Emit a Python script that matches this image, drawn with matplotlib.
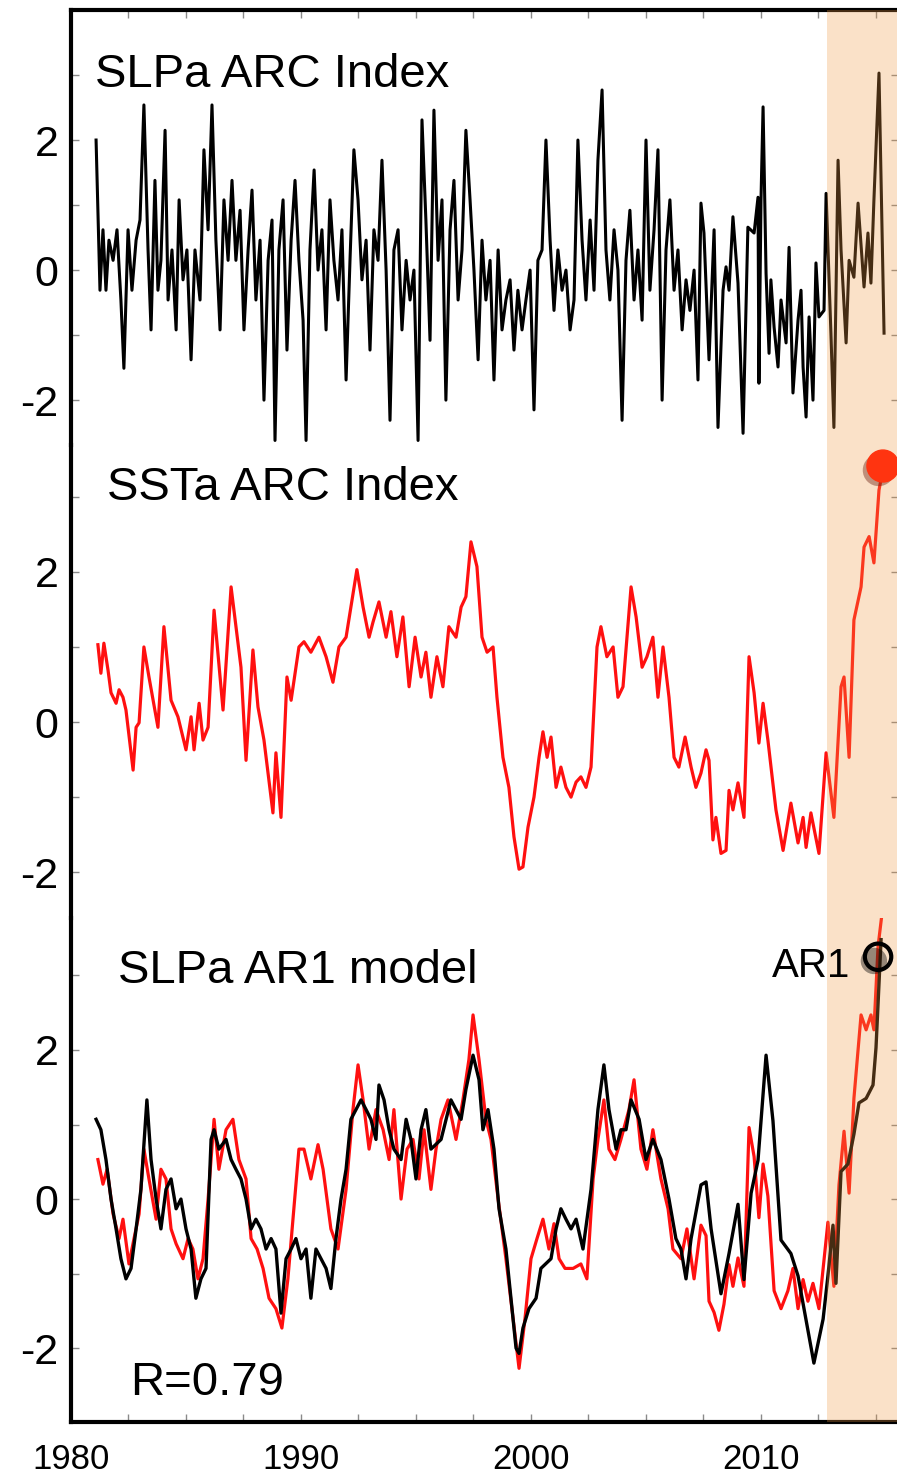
import matplotlib
matplotlib.use("Agg")
import matplotlib.pyplot as plt
import matplotlib.patheffects as pe

plt.rcParams['font.family'] = ['Liberation Sans', 'DejaVu Sans']

# --- data (year, standardized index) ---
slp_year = [1981.09, 1981.26, 1981.39, 1981.52, 1981.65, 1981.83, 1982.00, 1982.17, 1982.30, 1982.48,
            1982.65, 1982.83, 1983.00, 1983.17, 1983.35, 1983.48, 1983.65, 1983.78, 1983.91, 1984.09,
            1984.22, 1984.39, 1984.57, 1984.70, 1984.87, 1985.04, 1985.22, 1985.39, 1985.61, 1985.78,
            1985.96, 1986.13, 1986.30, 1986.48, 1986.65, 1986.83, 1987.00, 1987.17, 1987.35, 1987.52,
            1987.70, 1987.87, 1988.04, 1988.22, 1988.39, 1988.57, 1988.74, 1988.87, 1989.04, 1989.22,
            1989.39, 1989.57, 1989.74, 1989.91, 1990.09, 1990.22, 1990.39, 1990.57, 1990.74, 1990.91,
            1991.09, 1991.26, 1991.43, 1991.61, 1991.78, 1991.96, 1992.13, 1992.30, 1992.48, 1992.65,
            1992.83, 1993.00, 1993.17, 1993.35, 1993.52, 1993.70, 1993.87, 1994.04, 1994.22, 1994.39,
            1994.57, 1994.74, 1994.91, 1995.09, 1995.26, 1995.43, 1995.61, 1995.78, 1995.96, 1996.13,
            1996.30, 1996.48, 1996.65, 1996.83, 1997.00, 1997.17, 1997.35, 1997.52, 1997.70, 1997.87,
            1998.04, 1998.22, 1998.39, 1998.57, 1998.74, 1998.91, 1999.09, 1999.26, 1999.43, 1999.61,
            1999.78, 1999.96, 2000.13, 2000.30, 2000.48, 2000.65, 2000.83, 2001.00, 2001.17, 2001.35,
            2001.52, 2001.70, 2001.87, 2002.04, 2002.22, 2002.39, 2002.57, 2002.74, 2002.91, 2003.09,
            2003.26, 2003.43, 2003.61, 2003.78, 2003.96, 2004.13, 2004.30, 2004.48, 2004.65, 2004.83,
            2005.00, 2005.17, 2005.35, 2005.52, 2005.70, 2005.87, 2006.04, 2006.22, 2006.39, 2006.57,
            2006.74, 2006.91, 2007.09, 2007.26, 2007.39, 2007.52, 2007.74, 2007.96, 2008.13, 2008.35,
            2008.48, 2008.61, 2008.78, 2009.00, 2009.22, 2009.43, 2009.70, 2009.87, 2009.91, 2010.00,
            2010.09, 2010.22, 2010.35, 2010.43, 2010.57, 2010.74, 2010.87, 2011.09, 2011.22, 2011.39,
            2011.61, 2011.74, 2011.83, 2011.96, 2012.09, 2012.26, 2012.39, 2012.52, 2012.74, 2012.83,
            2013.04, 2013.17, 2013.35, 2013.48, 2013.70, 2013.83, 2014.04, 2014.22, 2014.48, 2014.65,
            2014.78, 2014.91, 2015.13, 2015.35]
slp_index = [2.00, -0.31, 0.62, -0.31, 0.46, 0.15, 0.62, -0.46, -1.51, 0.62,
             -0.31, 0.46, 0.77, 2.54, 0.31, -0.92, 1.38, -0.31, 0.15, 2.15,
             -0.46, 0.31, -0.92, 1.08, -0.15, 0.31, -1.38, 0.31, -0.46, 1.85,
             0.62, 2.54, 0.46, -0.92, 1.08, 0.15, 1.38, 0.15, 0.92, -0.92,
             0.31, 1.23, -0.46, 0.46, -2.00, 0.15, 0.77, -2.62, 0.31, 1.08,
             -1.23, 0.46, 1.38, 0.15, -0.77, -2.62, 0.31, 1.54, 0.00, 0.62,
             -0.92, 1.08, 0.15, -0.46, 0.62, -1.69, 0.15, 1.85, 1.08, -0.15,
             0.46, -1.23, 0.62, 0.15, 1.69, 0.00, -2.31, 0.31, 0.62, -0.92,
             0.15, -0.46, 0.00, -2.62, 2.31, 0.77, -1.08, 2.46, 0.15, 1.08,
             -2.00, 0.62, 1.38, -0.46, 0.31, 2.15, 1.08, 0.00, -1.38, 0.46,
             -0.46, 0.15, -1.69, 0.31, -0.92, -0.46, -0.15, -1.23, -0.31, -0.92,
             -0.46, 0.00, -2.15, 0.15, 0.31, 2.00, 0.46, -0.62, 0.31, -0.31,
             0.00, -0.92, -0.46, 2.00, 0.46, -0.46, 0.77, -0.31, 1.69, 2.77,
             0.31, -0.46, 0.62, 0.00, -2.31, 0.15, 0.92, -0.46, 0.31, -0.77,
             2.00, -0.31, 0.62, 1.85, -2.00, 0.31, 1.08, -0.31, 0.31, -0.92,
             -0.15, -0.62, 0.00, -1.69, 1.03, 0.57, -1.38, 0.62, -2.42, -0.31,
             0.05, -0.31, 0.82, -0.20, -2.51, 0.66, 0.57, 1.12, -1.74, 1.08,
             2.51, -0.05, -1.28, -0.15, -0.88, -1.49, -0.46, -1.12, 0.35, -1.89,
             -0.77, -0.31, -1.49, -2.26, -0.72, -2.00, 0.11, -0.72, -0.62, 1.18,
             -0.97, -2.42, 1.69, 0.31, -1.12, 0.15, -0.11, 1.03, -0.26, 0.57,
             -0.20, 1.08, 3.03, -0.97]

sst_year = [1981.17, 1981.30, 1981.43, 1981.61, 1981.74, 1981.96, 1982.09, 1982.26, 1982.39, 1982.70,
            1982.83, 1982.96, 1983.17, 1983.39, 1983.78, 1984.04, 1984.35, 1984.65, 1985.00, 1985.22,
            1985.35, 1985.57, 1985.74, 1985.96, 1986.22, 1986.61, 1986.96, 1987.39, 1987.61, 1987.91,
            1988.13, 1988.39, 1988.78, 1988.91, 1989.13, 1989.39, 1989.57, 1989.91, 1990.13, 1990.43,
            1990.78, 1991.09, 1991.39, 1991.65, 1991.96, 1992.17, 1992.43, 1992.70, 1992.96, 1993.13,
            1993.39, 1993.70, 1993.91, 1994.17, 1994.43, 1994.70, 1994.96, 1995.22, 1995.43, 1995.65,
            1995.91, 1996.17, 1996.43, 1996.74, 1996.96, 1997.17, 1997.39, 1997.65, 1997.87, 1998.09,
            1998.35, 1998.52, 1998.78, 1999.04, 1999.26, 1999.48, 1999.65, 1999.87, 2000.13, 2000.35,
            2000.52, 2000.70, 2000.87, 2001.09, 2001.30, 2001.52, 2001.74, 2001.96, 2002.17, 2002.39,
            2002.61, 2002.87, 2003.04, 2003.30, 2003.57, 2003.78, 2004.00, 2004.35, 2004.57, 2004.83,
            2005.04, 2005.30, 2005.52, 2005.74, 2006.00, 2006.22, 2006.43, 2006.70, 2006.96, 2007.17,
            2007.39, 2007.61, 2007.74, 2007.91, 2008.04, 2008.26, 2008.48, 2008.61, 2008.78, 2009.00,
            2009.26, 2009.48, 2009.70, 2009.91, 2010.09, 2010.30, 2010.65, 2010.96, 2011.30, 2011.61,
            2011.83, 2011.96, 2012.17, 2012.52, 2012.83, 2013.17, 2013.48, 2013.61, 2013.83, 2014.04,
            2014.35, 2014.48, 2014.70, 2014.91, 2015.13, 2015.30]
sst_index = [1.03, 0.65, 1.05, 0.69, 0.39, 0.25, 0.43, 0.33, 0.16, -0.64,
             -0.07, -0.01, 1.00, 0.60, -0.07, 1.27, 0.29, 0.07, -0.37, 0.07,
             -0.37, 0.25, -0.24, -0.07, 1.49, 0.16, 1.80, 0.73, -0.51, 0.96,
             0.20, -0.24, -1.21, -0.41, -1.27, 0.60, 0.29, 1.00, 1.07, 0.93,
             1.13, 0.87, 0.53, 1.00, 1.13, 1.53, 2.03, 1.53, 1.13, 1.33,
             1.60, 1.13, 1.47, 0.87, 1.40, 0.47, 1.13, 0.60, 0.93, 0.33,
             0.87, 0.47, 1.27, 1.13, 1.53, 1.67, 2.40, 2.07, 1.13, 0.93,
             1.00, 0.33, -0.47, -0.87, -1.53, -1.96, -1.93, -1.40, -1.00, -0.47,
             -0.13, -0.47, -0.20, -0.87, -0.60, -0.87, -1.00, -0.80, -0.73, -0.87,
             -0.60, 1.00, 1.27, 0.87, 1.00, 0.33, 0.47, 1.80, 1.40, 0.73,
             0.87, 1.13, 0.33, 1.00, 0.33, -0.47, -0.60, -0.20, -0.60, -0.87,
             -0.68, -0.37, -0.51, -1.57, -1.27, -1.75, -1.71, -0.91, -1.17, -0.81,
             -1.27, 0.87, 0.39, -0.28, 0.25, -0.24, -1.17, -1.71, -1.08, -1.61,
             -1.27, -1.67, -1.21, -1.75, -0.41, -1.27, 0.47, 0.60, -0.47, 1.36,
             1.80, 2.33, 2.47, 2.12, 3.09, 3.36]

ar1_year = [1981.09, 1981.30, 1981.52, 1981.74, 1981.96, 1982.17, 1982.39, 1982.61, 1982.83, 1983.04,
            1983.30, 1983.48, 1983.70, 1983.91, 1984.13, 1984.35, 1984.57, 1984.78, 1985.00, 1985.22,
            1985.43, 1985.65, 1985.87, 1986.09, 1986.22, 1986.43, 1986.74, 1986.96, 1987.17, 1987.39,
            1987.61, 1987.83, 1988.04, 1988.26, 1988.48, 1988.70, 1988.91, 1989.13, 1989.35, 1989.57,
            1989.78, 1990.00, 1990.22, 1990.43, 1990.65, 1990.87, 1991.09, 1991.30, 1991.52, 1991.74,
            1991.96, 1992.17, 1992.39, 1992.61, 1992.83, 1993.04, 1993.26, 1993.39, 1993.61, 1993.83,
            1994.04, 1994.35, 1994.57, 1994.78, 1995.00, 1995.22, 1995.43, 1995.65, 1996.09, 1996.52,
            1996.96, 1997.17, 1997.48, 1997.74, 1997.91, 1998.13, 1998.39, 1998.61, 1998.91, 1999.13,
            1999.35, 1999.48, 1999.65, 1999.91, 2000.22, 2000.43, 2000.87, 2001.09, 2001.30, 2001.52,
            2001.74, 2001.96, 2002.26, 2002.61, 2002.91, 2003.17, 2003.39, 2003.70, 2003.91, 2004.13,
            2004.35, 2004.70, 2005.00, 2005.30, 2005.65, 2006.00, 2006.30, 2006.52, 2006.74, 2006.96,
            2007.39, 2007.61, 2007.83, 2008.26, 2008.61, 2009.00, 2009.26, 2009.57, 2009.87, 2010.22,
            2010.52, 2010.87, 2011.30, 2011.61, 2011.87, 2012.30, 2012.70, 2012.91, 2013.13, 2013.26,
            2013.48, 2013.78, 2014.04, 2014.26, 2014.57, 2014.87, 2015.00, 2015.22]
ar1_model = [1.07, 0.93, 0.53, 0.00, -0.40, -0.80, -1.07, -0.93, -0.40, 0.13,
             1.33, 0.53, 0.00, -0.40, 0.13, 0.27, -0.13, 0.00, -0.40, -0.67,
             -1.33, -1.07, -0.93, 0.80, 0.93, 0.67, 0.80, 0.53, 0.40, 0.27,
             0.00, -0.40, -0.27, -0.40, -0.67, -0.53, -0.67, -1.53, -0.80, -0.67,
             -0.53, -0.80, -0.67, -1.33, -0.67, -0.80, -0.93, -1.20, -0.53, 0.00,
             0.40, 1.07, 1.20, 1.33, 1.20, 1.07, 0.80, 1.53, 1.33, 0.93,
             0.67, 0.53, 1.07, 0.80, 0.27, 0.93, 1.20, 0.67, 0.80, 1.33,
             1.07, 1.47, 1.93, 1.60, 0.93, 1.20, 0.67, -0.13, -0.67, -1.33,
             -2.00, -2.07, -1.73, -1.47, -1.33, -0.93, -0.80, -0.40, -0.13, -0.27,
             -0.40, -0.27, -0.67, 0.13, 1.20, 1.80, 1.20, 0.67, 0.93, 0.93,
             1.33, 1.07, 0.53, 0.80, 0.53, 0.00, -0.53, -0.67, -1.07, -0.53,
             0.19, 0.23, -0.40, -1.27, -0.73, -0.07, -1.08, 0.08, 0.52, 1.93,
             1.05, -0.55, -0.73, -1.03, -1.47, -2.20, -1.61, -1.03, -0.35, -1.13,
             0.37, 0.47, 0.87, 1.29, 1.35, 1.53, 2.03, 3.48]

sst3_year = [1981.17, 1981.39, 1981.57, 1981.83, 1982.09, 1982.26, 1982.52, 1982.74, 1982.96, 1983.17,
             1983.39, 1983.70, 1983.91, 1984.13, 1984.35, 1984.57, 1984.87, 1985.09, 1985.30, 1985.52,
             1985.74, 1985.96, 1986.22, 1986.43, 1986.74, 1987.04, 1987.30, 1987.61, 1987.83, 1988.09,
             1988.35, 1988.61, 1988.91, 1989.17, 1989.43, 1989.65, 1989.91, 1990.13, 1990.43, 1990.74,
             1990.96, 1991.30, 1991.61, 1991.96, 1992.26, 1992.48, 1992.70, 1992.96, 1993.26, 1993.57,
             1993.83, 1994.04, 1994.35, 1994.61, 1994.87, 1995.13, 1995.35, 1995.65, 1995.87, 1996.09,
             1996.39, 1996.74, 1997.04, 1997.30, 1997.48, 1997.74, 1998.04, 1998.26, 1998.57, 1998.91,
             1999.22, 1999.48, 1999.74, 2000.00, 2000.26, 2000.52, 2000.78, 2001.00, 2001.22, 2001.48,
             2001.83, 2002.17, 2002.43, 2002.70, 2002.91, 2003.17, 2003.39, 2003.65, 2003.91, 2004.26,
             2004.48, 2004.78, 2005.04, 2005.30, 2005.65, 2005.96, 2006.17, 2006.52, 2006.78, 2007.09,
             2007.39, 2007.61, 2007.74, 2007.96, 2008.17, 2008.39, 2008.61, 2008.78, 2009.00, 2009.26,
             2009.48, 2009.70, 2009.91, 2010.09, 2010.30, 2010.57, 2010.87, 2011.17, 2011.39, 2011.61,
             2011.83, 2012.04, 2012.26, 2012.52, 2012.91, 2013.17, 2013.39, 2013.61, 2013.83, 2014.04,
             2014.35, 2014.57, 2014.78, 2014.91, 2015.09, 2015.30]
sst3_index = [0.53, 0.20, 0.40, -0.20, -0.53, -0.27, -0.87, -0.53, -0.20, 0.67,
              0.27, -0.27, 0.40, 0.27, -0.40, -0.60, -0.80, -0.53, -0.67, -1.07,
              -0.80, 0.00, 1.07, 0.40, 0.93, 1.07, 0.53, 0.27, -0.53, -0.67,
              -0.93, -1.33, -1.47, -1.73, -1.07, -0.27, 0.67, 0.67, 0.27, 0.73,
              0.40, -0.40, -0.67, 0.13, 1.20, 1.80, 1.33, 0.67, 1.20, 0.93,
              0.53, 1.20, 0.00, 0.67, 0.80, 0.27, 0.93, 0.13, 0.67, 1.07,
              1.33, 0.80, 1.33, 1.87, 2.47, 1.87, 1.07, 0.80, 0.00, -0.80,
              -1.60, -2.27, -1.60, -0.80, -0.53, -0.27, -0.67, -0.33, -0.80, -0.93,
              -0.93, -0.87, -1.07, 0.27, 0.80, 1.33, 0.67, 0.53, 0.80, 1.20,
              1.60, 0.67, 0.40, 0.93, 0.27, -0.13, -0.67, -0.80, -0.40, -1.07,
              -0.35, -0.49, -1.37, -1.52, -1.76, -1.41, -0.88, -1.17, -0.79, -1.17,
              0.96, 0.57, -0.25, 0.47, 0.04, -1.23, -1.47, -1.23, -0.93, -1.47,
              -1.08, -1.37, -1.13, -1.47, -0.31, -1.17, 0.19, 0.91, 0.08, 1.35,
              2.47, 2.27, 2.47, 2.27, 3.39, 3.93]

sst_last = (2015.30, 3.41)   # big red dot, latest SSTa
ar1_last = (2015.09, 3.25)   # open circle, latest AR1 value
shade_start = 2012.85
year_ticks = [1980, 1982.5, 1985, 1987.5, 1990, 1992.5, 1995, 1997.5, 2000, 2002.5,
              2005, 2007.5, 2010, 2012.5, 2015]
year_labels = ['1980', '', '', '', '1990', '', '', '', '2000', '', '', '', '2010', '', '']

# --- layout (fractions of the 897 x 1481 canvas) ---
fig = plt.figure(figsize=(8.97, 14.81), dpi=100)
left, width = 71 / 897, 828 / 897
ax1 = fig.add_axes([left, 1 - 445 / 1481, width, 435 / 1481])
ax2 = fig.add_axes([left, 1 - 918 / 1481, width, 473 / 1481])
ax3 = fig.add_axes([left, 1 - 1422 / 1481, width, 504 / 1481])

ylims = [(-2.69, 4.0), (-2.61, 3.69), (-2.99, 3.77)]
for ax, yl in zip((ax1, ax2, ax3), ylims):
    ax.set_xlim(1980, 2016)
    ax.set_ylim(*yl)
    ax.patch.set_alpha(0)
    for side in ('top', 'bottom', 'right'):
        ax.spines[side].set_visible(False)
    ax.spines['left'].set_linewidth(3)
    ax.set_yticks([-2, -1, 0, 1, 2, 3])
    ax.set_yticklabels(['-2', '', '0', '', '2', ''])
    ax.tick_params(axis='y', direction='in', length=6, width=1, color='#8a8a8a',
                   left=True, right=True, labelsize=31, pad=9)
    ax.set_xticks(year_ticks)
    ax.set_xticklabels(year_labels)
    ax.tick_params(axis='x', direction='in', length=6, width=1, color='#8a8a8a',
                   top=False, bottom=False, labelbottom=False, labelsize=25, pad=15)
    ax.axvspan(shade_start, 2016, color='#f09a44', alpha=0.29, lw=0, zorder=5)

ax1.spines['top'].set_visible(True)
ax1.spines['top'].set_linewidth(3)
ax3.spines['bottom'].set_visible(True)
ax3.spines['bottom'].set_linewidth(3)
ax1.tick_params(axis='x', top=True)
ax3.tick_params(axis='x', bottom=True, labelbottom=True)

# --- series ---
ax1.plot(slp_year, slp_index, color='black', lw=2.2, zorder=3)
ax2.plot(sst_year, sst_index, color='#ff1010', lw=2.3, zorder=3)
ax3.plot(sst3_year, sst3_index, color='#ff1010', lw=2.3, zorder=3)
ax3.plot(ar1_year, ar1_model, color='black', lw=2.4, zorder=4)

shadow = [pe.SimplePatchShadow(offset=(-3, -3), alpha=0.4, rho=0.4), pe.Normal()]
ax2.plot([sst_last[0]], [sst_last[1]], 'o', ms=23, color='#ff3410', mec='#ff3410',
         zorder=8, clip_on=False, path_effects=shadow)
ax3.plot([ar1_last[0]], [ar1_last[1]], 'o', ms=19, mfc='none', mec='black', mew=3,
         zorder=8, clip_on=False, path_effects=shadow)

# --- labels ---
ax1.text((95 - 71) / 828, (445 - 87) / 435, 'SLPa ARC Index',
         transform=ax1.transAxes, fontsize=34, va='baseline', ha='left', zorder=9)
ax2.text((107 - 71) / 828, (918 - 500) / 473, 'SSTa ARC Index',
         transform=ax2.transAxes, fontsize=34, va='baseline', ha='left', zorder=9)
ax3.text((118 - 71) / 828, (1422 - 983) / 504, 'SLPa AR1 model',
         transform=ax3.transAxes, fontsize=34, va='baseline', ha='left', zorder=9)
ax3.text((130 - 71) / 828, (1422 - 1395) / 504, 'R=0.79',
         transform=ax3.transAxes, fontsize=34, va='baseline', ha='left', zorder=9)
ax3.text((850 - 71) / 828, (1422 - 977) / 504, 'AR1',
         transform=ax3.transAxes, fontsize=29, va='baseline', ha='right', zorder=9)

fig.savefig('out.png', dpi=100)
